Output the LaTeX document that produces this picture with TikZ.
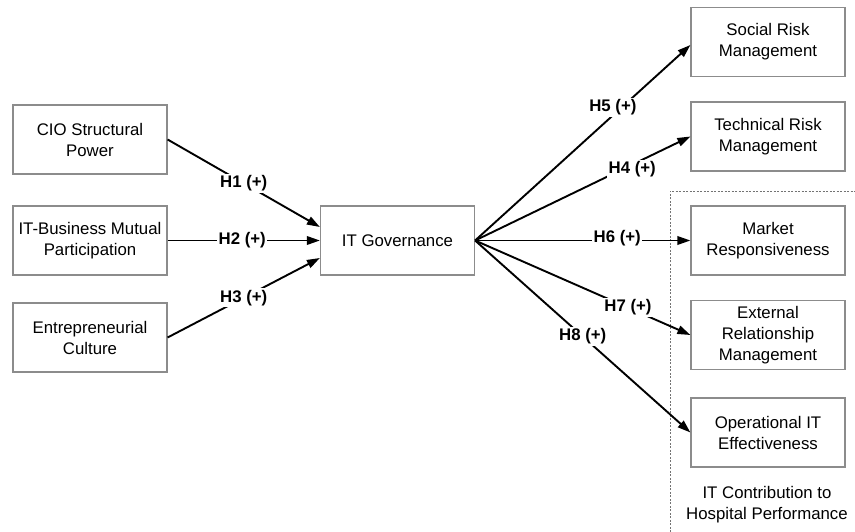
\documentclass[tikz,border=0pt]{standalone}
\usepackage{fontspec}
\setmainfont{Liberation Sans}
\usetikzlibrary{arrows.meta,calc}
\begin{document}
\begin{tikzpicture}[x=1pt,y=-1pt,
  box/.style={draw=black!45, line width=1.2pt, minimum width=154pt, minimum height=69pt,
    align=center, inner sep=0pt, font=\fontsize{16.8}{21}\selectfont},
  conn/.style={line width=1.9pt, -{Triangle[length=13pt,width=8.5pt]}},
  lab/.style={fill=white, inner sep=1.5pt, font=\fontsize{16.8}{21}\selectfont\bfseries},
  txt/.style={align=center, font=\fontsize{16.8}{21}\selectfont}]
\useasboundingbox (0,0) rectangle (855,532);
\node[box] (cio) at (90,139.5) {CIO Structural\\Power};
\node[box] (itb) at (90,240.5) {IT-Business Mutual\\Participation};
\node[box] (ent) at (90,337.5) {Entrepreneurial\\Culture};
\node[box] (gov) at (397.5,240.5) {IT Governance};
\node[box] (soc) at (768,42) {Social Risk\\Management};
\node[box] (tech) at (768,136.5) {Technical Risk\\Management};
\node[box] (mkt) at (768,240.5) {Market\\Responsiveness};
\node[box] (ext) at (768,335) {External\\Relationship\\Management};
\node[box] (op) at (768,432.5) {Operational IT\\Effectiveness};
\draw[black!55, line width=0.9pt, dash pattern=on 2pt off 1.5pt] (670,532) -- (670,191) -- (855,191);
\node[txt] (cap) at (767,505) {IT Contribution to\\Hospital Performance};
\draw[conn] (cio.east) -- node[lab, pos=0.5] {H1 (+)} ($(gov.west)+(0,-13.5)$);
\draw[conn] (itb.east) -- node[lab, pos=0.49] {H2 (+)} (gov.west);
\draw[conn] (ent.east) -- node[lab, pos=0.5] {H3 (+)} ($(gov.west)+(0,17.5)$);
\draw[conn] (gov.east) -- node[lab, pos=0.64, yshift=8pt] {H5 (+)} ($(soc.west)+(0,3)$);
\draw[conn] (gov.east) -- node[lab, pos=0.73, yshift=-5pt] {H4 (+)} (tech.west);
\draw[conn] (gov.east) -- node[lab, pos=0.66, yshift=2pt] {H6 (+)} (mkt.west);
\draw[conn] (gov.east) -- node[lab, pos=0.71] {H7 (+)} (ext.west);
\draw[conn] (gov.east) -- node[lab, pos=0.5] {H8 (+)} (op.west);
\end{tikzpicture}
\end{document}
